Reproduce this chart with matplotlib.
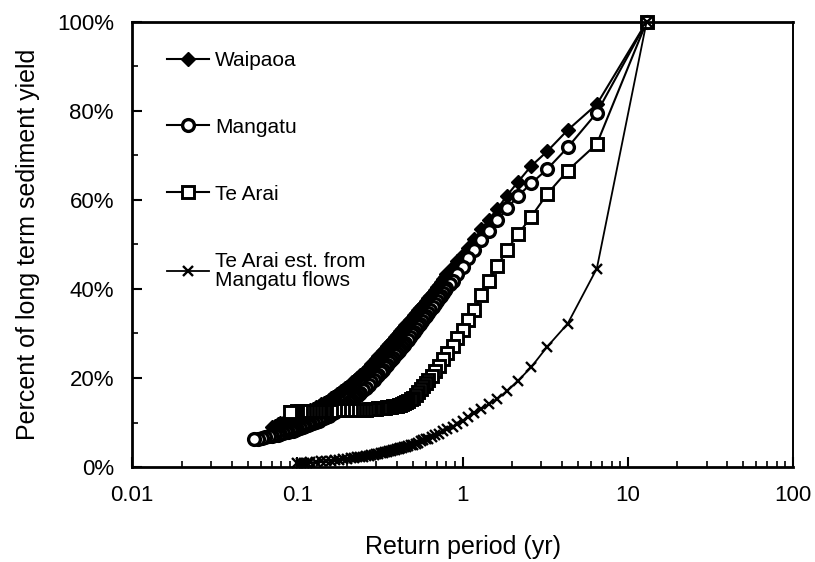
import matplotlib
matplotlib.use("Agg")
import matplotlib.pyplot as plt
from matplotlib.ticker import FixedLocator, FuncFormatter, NullFormatter

plt.rcParams['font.family'] = ['Liberation Sans', 'DejaVu Sans']

# Return period (yr) vs percent of long term sediment yield (%)
# the well separated points (largest events)
upper_x = [13, 6.5, 4.33, 3.25, 2.6, 2.17, 1.86, 1.625, 1.44, 1.3, 1.18, 1.08, 1.0,
           0.93, 0.87, 0.835]
# closely packed points, shared by Waipaoa and Mangatu
dense_x = [0.8, 0.78, 0.76, 0.74, 0.72, 0.70, 0.68, 0.66, 0.64, 0.62,
           0.60, 0.585, 0.57, 0.555, 0.54, 0.525, 0.51, 0.495, 0.48, 0.465,
           0.45, 0.44, 0.43, 0.42, 0.41, 0.40, 0.39, 0.38, 0.37, 0.36,
           0.35, 0.34, 0.33, 0.32, 0.31, 0.30, 0.29, 0.28, 0.27, 0.26,
           0.25, 0.24, 0.235, 0.23, 0.225, 0.22, 0.215, 0.21, 0.205, 0.20,
           0.195, 0.19, 0.185, 0.18, 0.175, 0.17, 0.165, 0.16, 0.155, 0.15,
           0.145, 0.14, 0.135, 0.13, 0.125, 0.12, 0.116, 0.112, 0.108, 0.104,
           0.10, 0.097, 0.094, 0.091, 0.088, 0.085, 0.082, 0.079, 0.076, 0.073,
           0.07, 0.067, 0.064, 0.061, 0.058, 0.055]

waipaoa_y = [100, 81.5, 75.7, 70.9, 67.6, 64.1, 61.0, 58.0, 55.6, 53.4, 51.2, 49.3, 47.6,
             46.2, 44.9, 44.1,
             43.3, 42.8, 42.2, 41.6, 41.0, 40.4, 39.8, 39.2, 38.5, 37.9,
             37.2, 36.7, 36.2, 35.7, 35.2, 34.6, 34.1, 33.5, 33.0, 32.4,
             31.8, 31.4, 30.9, 30.5, 30.1, 29.6, 29.1, 28.6, 28.1, 27.6,
             27.1, 26.5, 26.0, 25.4, 24.9, 24.3, 23.7, 23.1, 22.5, 21.8,
             21.2, 20.6, 20.3, 19.9, 19.6, 19.3, 19.0, 18.7, 18.3, 18.0,
             17.7, 17.4, 17.0, 16.7, 16.4, 16.0, 15.7, 15.4, 15.1, 14.7,
             14.4, 14.1, 13.7, 13.4, 13.0, 12.7, 12.4, 12.1, 11.8, 11.6,
             11.3, 11.1, 10.9, 10.7, 10.5, 10.3, 10.0, 9.8, 9.6, 9.3,
             9.0]

mangatu_y = [100, 79.6, 71.8, 66.9, 63.7, 60.9, 58.1, 55.5, 53.0, 51.0, 48.8, 46.9, 45.0,
             43.4, 41.9, 41.1,
             40.3, 39.7, 39.1, 38.5, 37.9, 37.3, 36.6, 36.0, 35.3, 34.6,
             33.9, 33.4, 32.8, 32.2, 31.6, 31.0, 30.4, 29.8, 29.2, 28.6,
             27.9, 27.5, 27.0, 26.6, 26.1, 25.6, 25.1, 24.6, 24.0, 23.5,
             22.9, 22.4, 21.8, 21.3, 20.7, 20.2, 19.6, 19.0, 18.4, 17.8,
             17.2, 16.6, 16.3, 16.0, 15.7, 15.4, 15.1, 14.8, 14.5, 14.2,
             13.9, 13.6, 13.3, 13.0, 12.7, 12.4, 12.1, 11.8, 11.5, 11.2,
             11.0, 10.7, 10.4, 10.1, 9.9, 9.6, 9.4, 9.2, 9.0, 8.8,
             8.5, 8.4, 8.2, 8.1, 7.9, 7.8, 7.6, 7.5, 7.3, 7.2,
             7.0, 6.9, 6.7, 6.5, 6.4, 6.2]

waipaoa_x = upper_x + dense_x[:len(waipaoa_y) - len(upper_x)]
mangatu_x = upper_x + dense_x[:len(mangatu_y) - len(upper_x)]

tearai_x = [13, 6.5, 4.33, 3.25, 2.6, 2.17, 1.86, 1.625, 1.44, 1.3, 1.18, 1.08, 1.0,
            0.93, 0.87, 0.81, 0.76, 0.72, 0.68, 0.65,
            0.62, 0.6, 0.58, 0.56, 0.54, 0.52, 0.5, 0.485, 0.47, 0.455,
            0.44, 0.43, 0.42, 0.41, 0.4, 0.39, 0.38, 0.37, 0.36, 0.35,
            0.34, 0.33, 0.32, 0.31, 0.3, 0.29, 0.28, 0.27, 0.26, 0.25,
            0.24, 0.23, 0.22, 0.21, 0.2, 0.19, 0.18, 0.17, 0.16, 0.15,
            0.145, 0.14, 0.135, 0.13, 0.125, 0.12, 0.115, 0.11, 0.105, 0.1,
            0.097, 0.094, 0.091, 0.09]
tearai_y = [100, 72.6, 66.6, 61.3, 56.2, 52.3, 48.8, 45.2, 41.8, 38.6, 35.3, 33.0, 30.8,
            28.9, 27.2, 25.6, 24.2, 22.8, 21.5, 20.5,
            19.6, 18.9, 18.2, 17.5, 16.8, 16.2, 15.6, 15.2, 14.9, 14.6,
            14.3, 14.2, 14.0, 13.9, 13.8, 13.7, 13.6, 13.5, 13.5, 13.4,
            13.3, 13.3, 13.2, 13.2, 13.1, 13.1, 13.0, 13.0, 12.9, 12.9,
            12.9, 12.8, 12.8, 12.8, 12.7, 12.7, 12.7, 12.7, 12.6, 12.6,
            12.6, 12.6, 12.6, 12.5, 12.5, 12.5, 12.5, 12.5, 12.5, 12.5,
            12.4, 12.4, 12.4, 12.4]

est_x = [13, 6.5, 4.33, 3.25, 2.6, 2.17, 1.86, 1.625, 1.44, 1.3, 1.18, 1.08, 1.0,
         0.93, 0.87, 0.81, 0.76, 0.72, 0.68, 0.65,
         0.62, 0.6, 0.58, 0.56, 0.54, 0.52, 0.5, 0.485, 0.47, 0.455,
         0.44, 0.43, 0.42, 0.41, 0.4, 0.39, 0.38, 0.37, 0.36, 0.35,
         0.34, 0.33, 0.32, 0.31, 0.3, 0.29, 0.28, 0.27, 0.26, 0.25,
         0.24, 0.23, 0.22, 0.21, 0.2, 0.19, 0.18, 0.17, 0.16, 0.15,
         0.14, 0.13, 0.12, 0.115, 0.11, 0.105, 0.1]
est_y = [100, 44.6, 32.2, 27.0, 22.4, 19.4, 17.1, 15.3, 14.1, 13.0, 12.1, 11.2, 10.4,
         9.7, 9.1, 8.5, 8.0, 7.5, 7.1, 6.7,
         6.4, 6.2, 6.0, 5.75, 5.5, 5.25, 5.0, 4.85, 4.7, 4.55,
         4.4, 4.3, 4.2, 4.1, 3.95, 3.85, 3.75, 3.6, 3.5, 3.4,
         3.3, 3.2, 3.1, 2.95, 2.85, 2.75, 2.65, 2.55, 2.45, 2.35,
         2.25, 2.15, 2.05, 1.95, 1.85, 1.75, 1.65, 1.55, 1.45, 1.35,
         1.25, 1.15, 1.05, 1.0, 0.95, 0.9, 0.85]

x_ticks = [0.01, 0.1, 1, 10, 100]
y_ticks = [0, 20, 40, 60, 80, 100]
y_minor = [10, 30, 50, 70, 90]

fig = plt.figure(figsize=(8.15, 5.62), dpi=100)
ax = fig.add_axes([0.162, 0.169, 0.811, 0.792])

ax.plot(waipaoa_x, waipaoa_y, color='black', lw=1.5, marker='D', ms=7.5,
        mfc='black', mec='black', clip_on=False, label='Waipaoa')
ax.plot(mangatu_x, mangatu_y, color='black', lw=1.5, marker='o', ms=8.5,
        mfc='white', mec='black', mew=2.4, clip_on=False, label='Mangatu')
ax.plot(tearai_x, tearai_y, color='black', lw=1.5, marker='s', ms=8.5,
        mfc='white', mec='black', mew=2.1, clip_on=False, label='Te Arai')
ax.plot(est_x, est_y, color='black', lw=1.3, marker='x', ms=7, mew=1.7,
        clip_on=False, label='Te Arai est. from\nMangatu flows')

ax.set_xscale('log')
ax.set_xlim(0.01, 100)
ax.set_ylim(0, 100)

ax.xaxis.set_major_locator(FixedLocator(x_ticks))
ax.xaxis.set_major_formatter(FuncFormatter(lambda v, p: '{:g}'.format(v)))
ax.xaxis.set_minor_formatter(NullFormatter())
ax.yaxis.set_major_locator(FixedLocator(y_ticks))
ax.yaxis.set_minor_locator(FixedLocator(y_minor))
ax.yaxis.set_major_formatter(FuncFormatter(lambda v, p: '{:.0f}%'.format(v)))

ax.tick_params(axis='both', which='major', direction='in', length=7, width=1.5,
               labelsize=16, pad=13)
ax.tick_params(axis='both', which='minor', direction='in', length=4.5, width=1.2)

for side in ['left', 'bottom', 'top']:
    ax.spines[side].set_linewidth(2.0)
ax.spines['right'].set_linewidth(1.4)

ax.set_xlabel('Return period (yr)', fontsize=18, labelpad=21)
ax.set_ylabel('Percent of long term sediment yield', fontsize=18, labelpad=12)

leg = ax.legend(loc='upper left', bbox_to_anchor=(0.053, 0.935), frameon=False,
                fontsize=15, labelspacing=2.3, handlelength=2.0, handletextpad=0.3,
                borderpad=0, borderaxespad=0)
for t in leg.get_texts():
    t.set_linespacing(1.0)

fig.savefig('out.png', dpi=100)
